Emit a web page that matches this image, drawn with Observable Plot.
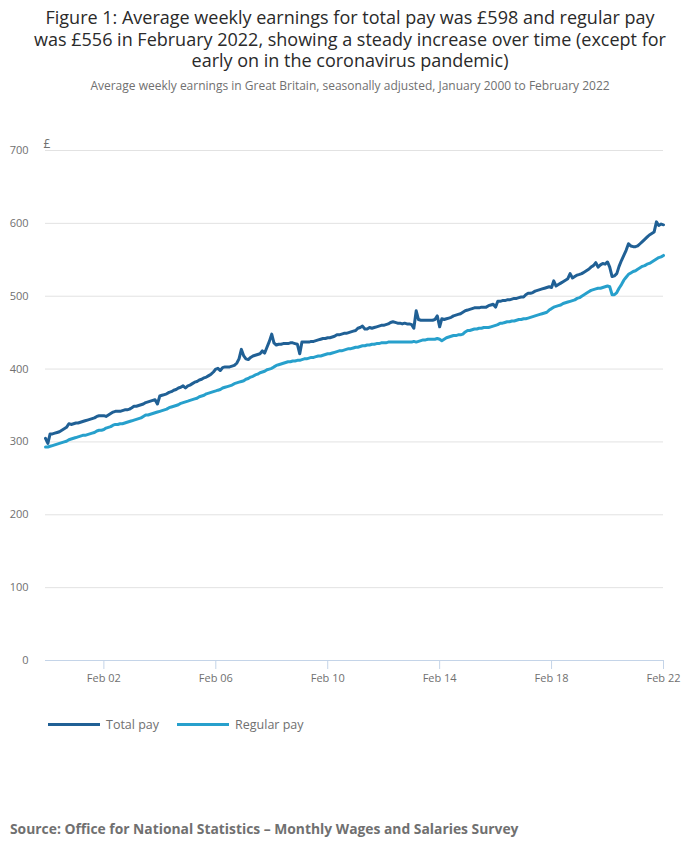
<!DOCTYPE html>
<html>
<head>
<meta charset="utf-8">
<script src="https://cdn.jsdelivr.net/npm/d3@7"></script>
<script src="https://cdn.jsdelivr.net/npm/@observablehq/plot@0.6"></script>
<style>
  body { margin: 0; background: #fff; font-family: "Open Sans", sans-serif; }
  #wrap { position: relative; width: 700px; height: 857px; overflow: hidden; background: #fff; }
  #title { position: absolute; top: 7px; left: 0; width: 700px; text-align: center; font-size: 18px; color: #2a2a2a; }
  #title div { height: 21.5px; line-height: 21.5px; white-space: nowrap; }
  #subtitle { position: absolute; top: 77px; left: 0; width: 700px; text-align: center; font-size: 12px; color: #707070; }
  #chart { position: absolute; top: 130px; left: 0; }
  #legend { position: absolute; top: 716px; left: 48px; font-size: 12.5px; color: #707070; display: flex; align-items: center; }
  .sw { display: inline-block; width: 52px; height: 3px; margin-right: 6px; }
  .item { display: flex; align-items: center; margin-right: 18px; }
  #source { position: absolute; top: 819px; left: 10px; font-size: 13.85px; font-weight: bold; color: #707070; }
</style>
</head>
<body>
<div id="wrap">
  <div id="title">
    <div>Figure 1: Average weekly earnings for total pay was £598 and regular pay</div>
    <div>was £556 in February 2022, showing a steady increase over time (except for</div>
    <div>early on in the coronavirus pandemic)</div>
  </div>
  <div id="subtitle">Average weekly earnings in Great Britain, seasonally adjusted, January 2000 to February 2022</div>
  <div id="chart"></div>
  <div id="legend">
    <div class="item"><span class="sw" style="background:#206095"></span>Total pay</div>
    <div class="item"><span class="sw" style="background:#27a0cc"></span>Regular pay</div>
  </div>
  <div id="source">Source: Office for National Statistics – Monthly Wages and Salaries Survey</div>
</div>
<script>
// First and last month of the monthly series
const startMonth = "2000-01-01";
const endMonth = "2022-02-01";

// Total pay, £ per week, monthly Jan 2000 – Feb 2022
const totalPay = [
  305, 298, 311, 311, 312, 313, 314, 316, 318, 320, 325, 324, // 2000
  325, 326, 326, 327, 328, 329, 330, 331, 332, 333, 335, 336, // 2001
  336, 336, 335, 337, 339, 341, 342, 342, 342, 343, 344, 344, // 2002
  345, 347, 349, 349, 350, 351, 352, 354, 355, 356, 357, 358, // 2003
  352, 363, 364, 365, 366, 368, 369, 371, 372, 374, 375, 377, // 2004
  374, 377, 378, 380, 382, 383, 385, 386, 388, 389, 391, 393, // 2005
  396, 400, 401, 398, 402, 403, 403, 403, 404, 405, 408, 414, // 2006
  427, 418, 414, 413, 416, 418, 419, 420, 421, 425, 422, 430, // 2007
  438, 448, 436, 433, 434, 434, 435, 435, 435, 436, 436, 435, // 2008
  434, 421, 437, 437, 437, 437, 438, 438, 439, 440, 441, 442, // 2009
  442, 443, 443, 444, 445, 447, 447, 448, 449, 449, 450, 451, // 2010
  452, 453, 456, 457, 459, 455, 455, 457, 456, 457, 458, 459, // 2011
  460, 460, 461, 462, 464, 465, 464, 463, 463, 462, 463, 462, // 2012
  462, 461, 456, 480, 468, 467, 467, 467, 467, 467, 467, 468, // 2013
  473, 458, 469, 468, 469, 470, 471, 473, 474, 475, 476, 478, // 2014
  480, 481, 482, 483, 484, 484, 484, 485, 485, 485, 487, 488, // 2015
  489, 485, 493, 493, 494, 494, 495, 495, 496, 497, 497, 498, // 2016
  499, 499, 502, 504, 504, 505, 507, 508, 509, 510, 511, 512, // 2017
  513, 512, 521, 514, 516, 518, 520, 522, 524, 531, 525, 527, // 2018
  529, 530, 531, 533, 535, 537, 540, 542, 546, 540, 543, 545, // 2019
  544, 547, 540, 527, 528, 531, 541, 549, 556, 563, 572, 569, // 2020
  568, 568, 569, 572, 575, 578, 581, 584, 586, 588, 602, 597, // 2021
  599, 598                                                    // 2022
];

// Regular pay, £ per week, monthly Jan 2000 – Feb 2022
const regularPay = [
  293, 293, 294, 295, 296, 297, 298, 299, 300, 301, 303, 304, // 2000
  305, 306, 307, 308, 309, 309, 310, 311, 312, 313, 315, 316, // 2001
  316, 317, 319, 320, 321, 323, 324, 324, 325, 325, 326, 327, // 2002
  328, 329, 330, 331, 332, 333, 335, 337, 337, 338, 339, 340, // 2003
  341, 342, 343, 344, 345, 347, 348, 349, 350, 351, 353, 354, // 2004
  355, 356, 357, 358, 359, 360, 362, 363, 364, 366, 367, 368, // 2005
  369, 370, 371, 372, 374, 375, 376, 377, 378, 380, 381, 382, // 2006
  383, 384, 386, 387, 389, 390, 392, 393, 395, 396, 397, 399, // 2007
  400, 401, 403, 405, 406, 407, 408, 409, 410, 410, 411, 411, // 2008
  412, 412, 413, 414, 414, 415, 416, 416, 417, 418, 418, 419, // 2009
  420, 421, 421, 422, 423, 424, 425, 425, 426, 427, 428, 428, // 2010
  429, 430, 430, 431, 432, 432, 433, 433, 434, 434, 435, 435, // 2011
  436, 436, 436, 437, 437, 437, 437, 437, 437, 437, 437, 437, // 2012
  437, 437, 438, 437, 438, 439, 440, 440, 441, 441, 441, 441, // 2013
  442, 441, 439, 441, 443, 444, 445, 446, 446, 447, 447, 448, // 2014
  451, 453, 453, 454, 455, 455, 456, 456, 457, 457, 457, 458, // 2015
  459, 460, 461, 463, 463, 464, 465, 465, 466, 466, 467, 468, // 2016
  468, 469, 469, 470, 471, 472, 473, 474, 475, 476, 477, 478, // 2017
  481, 483, 485, 486, 487, 488, 490, 491, 492, 493, 494, 495, // 2018
  497, 498, 500, 502, 504, 506, 508, 509, 510, 511, 511, 512, // 2019
  513, 514, 513, 502, 502, 505, 511, 516, 522, 526, 530, 532, // 2020
  534, 535, 537, 539, 541, 542, 544, 545, 547, 549, 551, 553, // 2021
  554, 556                                                    // 2022
];

const seriesNames = ["Total pay", "Regular pay"];
const seriesColors = ["#206095", "#27a0cc"];
const yTicks = [0, 100, 200, 300, 400, 500, 600, 700];
const xTickDates = ["2002-02-01", "2006-02-01", "2010-02-01", "2014-02-01", "2018-02-01", "2022-02-01"];

const months = d3.utcMonth.range(new Date(startMonth), d3.utcMonth.offset(new Date(endMonth), 1));
const rows = [];
months.forEach((d, i) => {
  rows.push({date: d, value: totalPay[i], series: seriesNames[0]});
});
months.forEach((d, i) => {
  rows.push({date: d, value: regularPay[i], series: seriesNames[1]});
});

const chart = Plot.plot({
  width: 700,
  height: 560,
  marginTop: 20,
  marginBottom: 30,
  marginLeft: 45,
  marginRight: 37,
  style: {fontFamily: "Open Sans, sans-serif", fontSize: "11px", color: "#707070", background: "transparent"},
  x: {type: "utc", domain: [new Date(startMonth), new Date(endMonth)]},
  y: {domain: [0, 700]},
  color: {domain: seriesNames, range: seriesColors},
  marks: [
    Plot.gridY(yTicks.filter(d => d > 0), {stroke: "#e2e2e2", strokeOpacity: 1}),
    Plot.axisY(yTicks, {tickSize: 0, tickPadding: 17, label: null, fill: "#707070"}),
    Plot.text(["£"], {frameAnchor: "top-left", dx: -2, dy: -3, lineAnchor: "bottom", textAnchor: "start", fill: "#707070", fontSize: 12}),
    Plot.ruleY([0], {stroke: "#c4d4e8", strokeWidth: 1.2}),
    Plot.axisX(xTickDates.map(d => new Date(d)), {tickFormat: d3.utcFormat("%b %y"), tickSize: 9, tickPadding: 5, stroke: "#c4d4e8", fill: "#707070", label: null}),
    Plot.lineY(rows, {x: "date", y: "value", z: "series", stroke: "series", strokeWidth: 3, strokeLinejoin: "round"})
  ]
});
document.getElementById("chart").appendChild(chart);
</script>
</body>
</html>
